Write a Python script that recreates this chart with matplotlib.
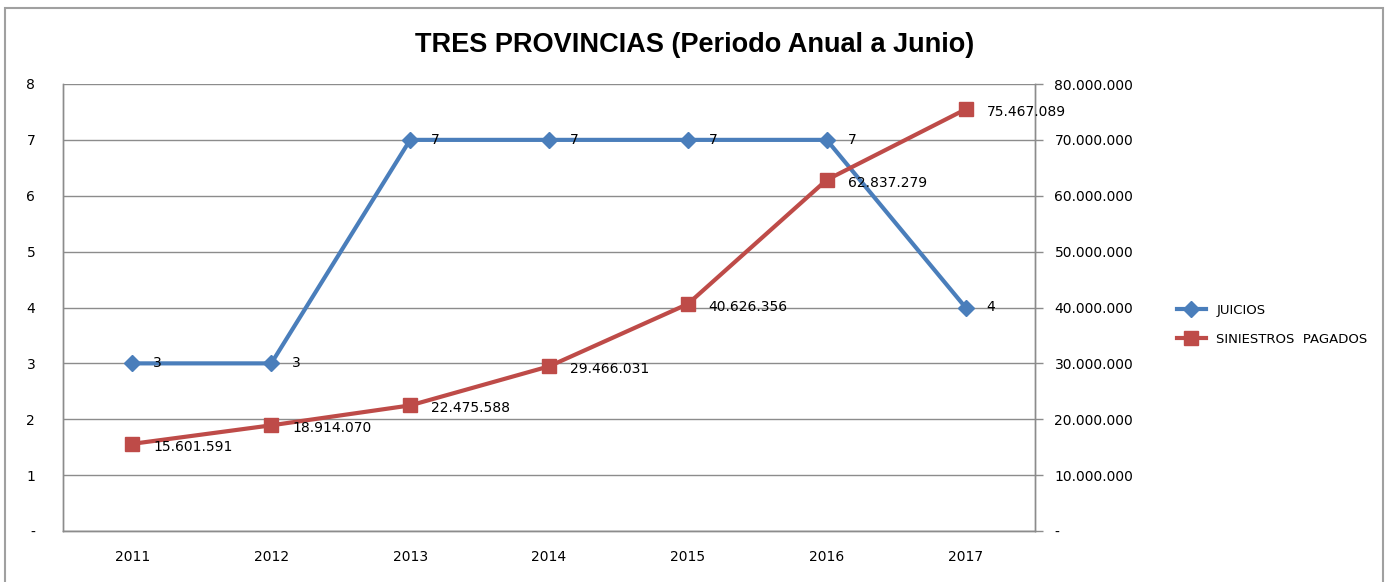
import matplotlib
matplotlib.use("Agg")
import matplotlib.pyplot as plt
from matplotlib.patches import Rectangle

years = ["2011", "2012", "2013", "2014", "2015", "2016", "2017"]
juicios = [3, 3, 7, 7, 7, 7, 4]
siniestros = [15601591, 18914070, 22475588, 29466031, 40626356, 62837279, 75467089]

left_ticks = [0, 1, 2, 3, 4, 5, 6, 7, 8]
right_ticks = [0, 10e6, 20e6, 30e6, 40e6, 50e6, 60e6, 70e6, 80e6]

def fmt_thousands(v):
    v = int(round(v))
    if v == 0:
        return "-"
    return f"{v:,}".replace(",", ".")

blue = "#4A7EBB"
red = "#BE4B48"
grid_c = "#8C8C8C"
txt_font = "DejaVu Sans"

fig = plt.figure(figsize=(13.9, 5.82), dpi=100)
fig.patches.append(Rectangle((5/1390, -0.01), 1378/1390, 1 - 8/582 + 0.01, transform=fig.transFigure,
                             fill=False, edgecolor="#A0A0A0", linewidth=1.5))

ax = fig.add_axes([63/1390, 1 - 531/582, (1035 - 63)/1390, (531 - 84)/582])
ax2 = ax.twinx()

x = list(range(len(years)))
ax.set_xlim(-0.5, len(years) - 0.5)
ax.set_ylim(0, 8)
ax2.set_ylim(0, 80e6)

ax.set_yticks(left_ticks)
ax.set_yticklabels([("-" if t == 0 else str(t)) for t in left_ticks], fontsize=10, family=txt_font)
ax.tick_params(axis="y", length=0, pad=20)
ax.set_xticks(x)
ax.set_xticklabels(years, fontsize=10, family=txt_font)
ax.tick_params(axis="x", length=0, pad=14)
ax.grid(axis="y", color=grid_c, linewidth=1)
ax.set_axisbelow(True)

ax2.set_yticks(right_ticks)
ax2.set_yticklabels([fmt_thousands(t) for t in right_ticks], fontsize=10, family=txt_font)
ax2.tick_params(axis="y", length=6, width=1, color=grid_c, pad=8)

for a in (ax, ax2):
    for s in a.spines.values():
        s.set_color(grid_c)
        s.set_linewidth(1)
ax.spines["top"].set_visible(False)
ax2.spines["top"].set_visible(False)

l1, = ax.plot(x, juicios, color=blue, linewidth=3, marker="D", markersize=8,
              markerfacecolor=blue, markeredgecolor=blue, label="JUICIOS", zorder=3)
l2, = ax2.plot(x, siniestros, color=red, linewidth=3, marker="s", markersize=10,
               markerfacecolor=red, markeredgecolor=red, label="SINIESTROS  PAGADOS", zorder=3)

for xi, v in zip(x, juicios):
    ax.annotate(str(v), (xi, v), xytext=(15, 0), textcoords="offset points",
                ha="left", va="center", fontsize=10, family=txt_font)
for xi, v in zip(x, siniestros):
    ax2.annotate(fmt_thousands(v), (xi, v), xytext=(15, -2), textcoords="offset points",
                 ha="left", va="center", fontsize=10, family=txt_font)

fig.text(695/1390, 1 - 45/582, "TRES PROVINCIAS (Periodo Anual a Junio)", ha="center", va="center",
         fontsize=19.5, fontweight="bold", family="Liberation Sans")

fig.legend(handles=[l1, l2], loc="center left", bbox_to_anchor=(1165/1390, 1 - 325/582),
           frameon=False, handlelength=2.2, labelspacing=1.2,
           prop={"family": txt_font, "size": 9.5})

fig.savefig("out.png", dpi=100)
